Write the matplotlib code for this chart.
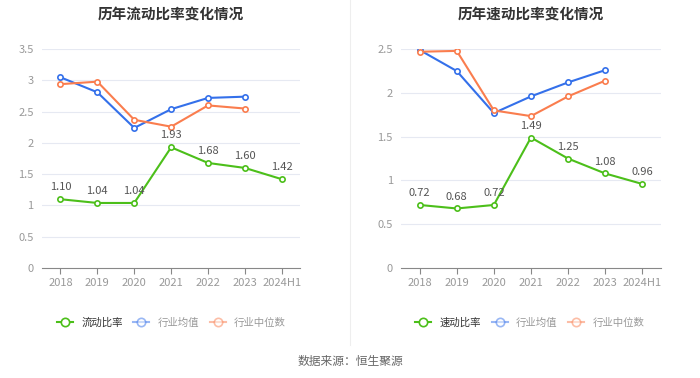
import matplotlib
matplotlib.use('Agg')
from matplotlib import pyplot as plt
from matplotlib.lines import Line2D

plt.rcParams['font.family'] = ['Noto Sans CJK SC', 'DejaVu Sans']

years = ['2018', '2019', '2020', '2021', '2022', '2023', '2024H1']

# 流动比率
current = [1.10, 1.04, 1.04, 1.93, 1.68, 1.60, 1.42]
current_avg = [3.05, 2.81, 2.24, 2.54, 2.72, 2.74]
current_med = [2.94, 2.98, 2.37, 2.26, 2.60, 2.55]

# 速动比率
quick = [0.72, 0.68, 0.72, 1.49, 1.25, 1.08, 0.96]
quick_avg = [2.49, 2.25, 1.77, 1.96, 2.12, 2.26]
quick_med = [2.47, 2.48, 1.80, 1.735, 1.96, 2.14]

green = '#4cbf1a'
blue = '#3470ea'
orange = '#fa7d4e'

fig = plt.figure(figsize=(7, 3.78), dpi=100)


def draw(ax, main, avg, med, title, ymax, yticks, ylabels):
    x = list(range(len(years)))
    for t in yticks[1:]:
        ax.axhline(t, color='#e6e9f2', lw=0.8, zorder=0)
    mk = dict(marker='o', markersize=3.8, markerfacecolor='white', markeredgewidth=1.2)
    ax.plot(x[:len(avg)], avg, color=blue, lw=1.5, markeredgecolor=blue, zorder=3, **mk)
    ax.plot(x[:len(med)], med, color=orange, lw=1.5, markeredgecolor=orange, zorder=3, **mk)
    ax.plot(x, main, color=green, lw=1.5, markeredgecolor=green, zorder=4, **mk)
    for i, v in enumerate(main):
        ax.annotate('%.2f' % v, (i, v), xytext=(0, 5), textcoords='offset points',
                    ha='center', va='bottom', fontsize=8, color='#555555', zorder=5)
    ax.set_xlim(-0.5, len(years) - 0.5)
    ax.set_ylim(0, ymax)
    ax.set_xticks(x)
    ax.set_xticklabels(years, fontsize=8, color='#999999')
    ax.set_yticks(yticks)
    ax.set_yticklabels(ylabels, fontsize=8, color='#999999')
    for s in ['top', 'right', 'left']:
        ax.spines[s].set_visible(False)
    ax.spines['bottom'].set_color('#888888')
    ax.tick_params(axis='x', length=4, color='#888888', pad=3)
    ax.tick_params(axis='y', length=0, pad=6)
    ax.set_title(title, fontsize=10.5, fontweight='bold', color='#333333', pad=22)


ax1 = fig.add_axes([0.06, 0.291, 0.369, 0.579])
draw(ax1, current, current_avg, current_med, '历年流动比率变化情况', 3.5,
     [0, 0.5, 1, 1.5, 2, 2.5, 3, 3.5], ['0', '0.5', '1', '1.5', '2', '2.5', '3', '3.5'])

ax2 = fig.add_axes([0.573, 0.291, 0.371, 0.579])
draw(ax2, quick, quick_avg, quick_med, '历年速动比率变化情况', 2.5,
     [0, 0.5, 1, 1.5, 2, 2.5], ['0', '0.5', '1', '1.5', '2', '2.5'])


def legend(name, cx):
    handles = [
        Line2D([], [], color=green, lw=1.5, marker='o', markersize=6,
               markerfacecolor='white', markeredgewidth=1.2),
        Line2D([], [], color=blue, lw=1.5, marker='o', markersize=6,
               markerfacecolor='white', markeredgewidth=1.2, alpha=0.5),
        Line2D([], [], color=orange, lw=1.5, marker='o', markersize=6,
               markerfacecolor='white', markeredgewidth=1.2, alpha=0.5),
    ]
    leg = fig.legend(handles, [name, '行业均值', '行业中位数'], loc='center',
                     bbox_to_anchor=(cx, 1 - 323 / 378), ncol=3, frameon=False,
                     fontsize=7.5, handlelength=1.55, columnspacing=1.0, handletextpad=0.8)
    cols = ['#333333', '#999999', '#999999']
    for t, c in zip(leg.get_texts(), cols):
        t.set_color(c)


legend('流动比率', 0.245)
legend('速动比率', 0.757)

fig.add_artist(Line2D([0.5, 0.5], [1 - 345 / 378, 1.0], color='#eeeeee', lw=0.8))
fig.text(0.5, 1 - 361 / 378, '数据来源：恒生聚源', ha='center', va='center',
         fontsize=8.5, color='#666666')

fig.savefig('out.png', dpi=100)
